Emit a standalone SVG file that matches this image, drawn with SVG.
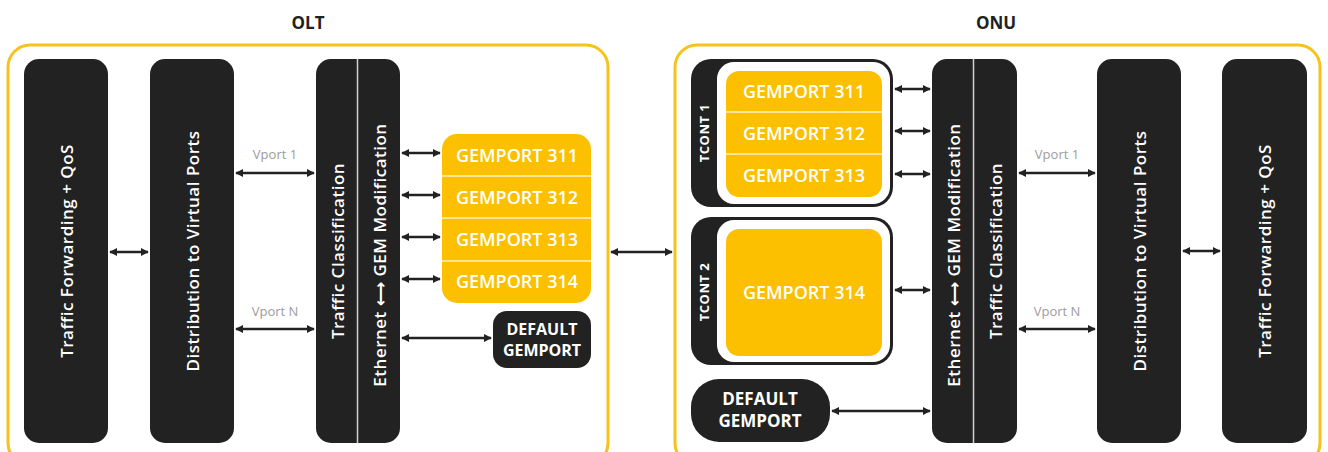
<svg xmlns="http://www.w3.org/2000/svg" width="1328" height="452" viewBox="0 0 1328 452">
<style>
.frame{fill:none;stroke:#f6c21c;stroke-width:3}
.blk{fill:#222222}
.yel{fill:#fcc000}
.div{stroke:#ffffff;stroke-width:1.5;opacity:0.8}
.vt{font-family:"Open Sans","DejaVu Sans",sans-serif;font-size:17px;letter-spacing:0.5px;font-weight:600;fill:#ffffff;text-anchor:middle;dominant-baseline:central}
.gp{font-family:"Open Sans","DejaVu Sans",sans-serif;font-size:18px;font-weight:600;fill:#ffffff;text-anchor:middle;dominant-baseline:central}
.df{font-family:"Open Sans","DejaVu Sans",sans-serif;font-size:16px;font-weight:700;fill:#ffffff;text-anchor:middle}
.tc{font-family:"Open Sans","DejaVu Sans",sans-serif;font-size:13px;letter-spacing:0.5px;font-weight:700;fill:#ffffff;text-anchor:middle;dominant-baseline:central}
.hd{font-family:"Open Sans","DejaVu Sans",sans-serif;font-size:17px;font-weight:700;fill:#222222;text-anchor:middle}
.vp{font-family:"Open Sans","DejaVu Sans",sans-serif;font-size:13px;fill:#9c9c9c;text-anchor:middle}
.ln{stroke:#222222;stroke-width:2.5;fill:none;marker-start:url(#ah);marker-end:url(#ah)}
</style>
<defs>
<marker id="ah" viewBox="0 0 10 10" refX="9" refY="5" markerWidth="8" markerHeight="9" markerUnits="userSpaceOnUse" orient="auto-start-reverse">
<path d="M0,0 L10,5 L0,10 z" fill="#222222"/>
</marker>
</defs>

<g id="olt">
<text class="hd" x="308" y="29">OLT</text>
<rect class="frame" x="8" y="45" width="600" height="420" rx="22"/>
</g>
<g id="onu">
<text class="hd" x="996" y="29">ONU</text>
<rect class="frame" x="675" y="45" width="645" height="420" rx="22"/>
</g>

<g id="olt-forwarding">
<rect class="blk" x="24" y="59" width="84" height="384" rx="15"/>
<text class="vt" transform="translate(66,251) rotate(-90)">Traffic Forwarding + QoS</text>
</g>
<g id="olt-distribution">
<rect class="blk" x="150" y="59" width="84" height="384" rx="15"/>
<text class="vt" transform="translate(192,251) rotate(-90)">Distribution to Virtual Ports</text>
</g>
<g id="olt-classification">
<rect class="blk" x="316" y="59" width="84" height="384" rx="15"/>
<line class="div" x1="357.5" y1="59" x2="357.5" y2="443"/>
<text class="vt" transform="translate(337,251) rotate(-90)">Traffic Classification</text>
<text class="vt" transform="translate(379,255) rotate(-90)">Ethernet ⟷ GEM Modification</text>
</g>
<g id="olt-gemports">
<rect class="yel" x="442" y="134" width="149" height="169" rx="15"/>
<line class="div" x1="442" y1="176" x2="591" y2="176"/>
<line class="div" x1="442" y1="218" x2="591" y2="218"/>
<line class="div" x1="442" y1="261" x2="591" y2="261"/>
<text class="gp" x="517" y="155">GEMPORT 311</text>
<text class="gp" x="517" y="197">GEMPORT 312</text>
<text class="gp" x="517" y="239">GEMPORT 313</text>
<text class="gp" x="517" y="281">GEMPORT 314</text>
</g>
<g id="olt-default">
<rect class="blk" x="493" y="311" width="98" height="57" rx="14"/>
<text class="df" x="542" y="335">DEFAULT</text>
<text class="df" x="542" y="356">GEMPORT</text>
</g>

<g id="onu-tcont1">
<rect class="blk" x="691" y="59" width="202" height="148" rx="20"/>
<rect fill="#ffffff" x="717" y="62" width="173" height="142" rx="17"/>
<rect class="yel" x="726" y="71" width="156" height="126" rx="13"/>
<line class="div" x1="726" y1="112" x2="882" y2="112"/>
<line class="div" x1="726" y1="154" x2="882" y2="154"/>
<text class="gp" x="804" y="91">GEMPORT 311</text>
<text class="gp" x="804" y="133">GEMPORT 312</text>
<text class="gp" x="804" y="175">GEMPORT 313</text>
<text class="tc" transform="translate(704,133) rotate(-90)">TCONT 1</text>
</g>
<g id="onu-tcont2">
<rect class="blk" x="691" y="217" width="202" height="148" rx="20"/>
<rect fill="#ffffff" x="717" y="220" width="173" height="142" rx="17"/>
<rect class="yel" x="726" y="229" width="156" height="127" rx="13"/>
<text class="gp" x="804" y="292">GEMPORT 314</text>
<text class="tc" transform="translate(704,292) rotate(-90)">TCONT 2</text>
</g>
<g id="onu-default">
<rect class="blk" x="691" y="379" width="139" height="63" rx="28"/>
<text class="df" x="760" y="405" style="font-size:17px">DEFAULT</text>
<text class="df" x="760" y="427" style="font-size:17px">GEMPORT</text>
</g>
<g id="onu-classification">
<rect class="blk" x="932" y="59" width="85" height="384" rx="15"/>
<line class="div" x1="973.5" y1="59" x2="973.5" y2="443"/>
<text class="vt" transform="translate(953,255) rotate(-90)">Ethernet ⟷ GEM Modification</text>
<text class="vt" transform="translate(995,251) rotate(-90)">Traffic Classification</text>
</g>
<g id="onu-distribution">
<rect class="blk" x="1097" y="59" width="84" height="384" rx="15"/>
<text class="vt" transform="translate(1139,251) rotate(-90)">Distribution to Virtual Ports</text>
</g>
<g id="onu-forwarding">
<rect class="blk" x="1222" y="59" width="85" height="384" rx="15"/>
<text class="vt" transform="translate(1264,251) rotate(-90)">Traffic Forwarding + QoS</text>
</g>

<g id="connectors">
<line class="ln" x1="110" y1="252" x2="148" y2="252"/>
<line class="ln" x1="236" y1="173" x2="314" y2="173"/>
<line class="ln" x1="236" y1="329" x2="314" y2="329"/>
<text class="vp" x="275" y="159">Vport 1</text>
<text class="vp" x="275" y="316">Vport N</text>
<line class="ln" x1="402" y1="153" x2="440" y2="153"/>
<line class="ln" x1="402" y1="195" x2="440" y2="195"/>
<line class="ln" x1="402" y1="237" x2="440" y2="237"/>
<line class="ln" x1="402" y1="279" x2="440" y2="279"/>
<line class="ln" x1="402" y1="338" x2="491" y2="338"/>
<line class="ln" x1="611" y1="252" x2="672" y2="252"/>
<line class="ln" x1="895" y1="89" x2="930" y2="89"/>
<line class="ln" x1="895" y1="131" x2="930" y2="131"/>
<line class="ln" x1="895" y1="174" x2="930" y2="174"/>
<line class="ln" x1="895" y1="290" x2="930" y2="290"/>
<line class="ln" x1="832" y1="411" x2="930" y2="411"/>
<line class="ln" x1="1019" y1="173" x2="1095" y2="173"/>
<line class="ln" x1="1019" y1="329" x2="1095" y2="329"/>
<text class="vp" x="1057" y="159">Vport 1</text>
<text class="vp" x="1057" y="316">Vport N</text>
<line class="ln" x1="1183" y1="251" x2="1220" y2="251"/>
</g>
</svg>
